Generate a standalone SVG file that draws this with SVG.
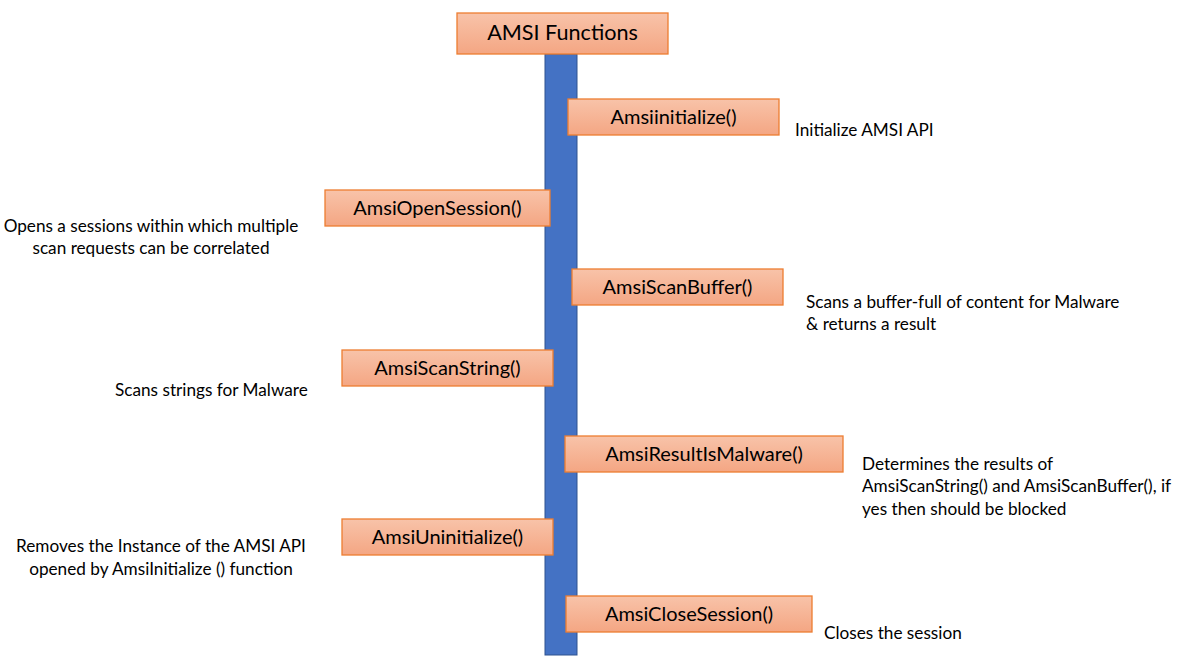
<svg xmlns="http://www.w3.org/2000/svg" width="1192" height="667" viewBox="0 0 1192 667">
<defs>
<linearGradient id="g" x1="0" y1="0" x2="0" y2="1">
<stop offset="0" stop-color="#F8C3A9"/>
<stop offset="1" stop-color="#F4A683"/>
</linearGradient>
</defs>
<style>
.box{fill:url(#g);stroke:#ED7D31;stroke-width:1.3}
.lbl{font-family:Lato,"Open Sans",sans-serif;font-size:20px;fill:#000;text-anchor:middle}
.t{font-family:Lato,"Open Sans",sans-serif;font-size:17.2px;fill:#000}
.c{text-anchor:middle}
</style>
<rect width="1192" height="667" fill="#fff"/>
<g id="connectors">
<rect x="545" y="54" width="32" height="601" fill="#4472C4" stroke="#2F528F" stroke-width="1"/>
</g>
<g id="title">
<rect class="box" x="457" y="13" width="211" height="41"/>
<text class="lbl" x="562.5" y="40" style="font-size:21.6px">AMSI Functions</text>
</g>
<g id="n-init">
<rect class="box" x="568" y="99" width="211" height="36"/>
<text class="lbl" x="673.5" y="124">Amsiinitialize()</text>
<text class="t" x="795" y="136">Initialize AMSI API</text>
</g>
<g id="n-open">
<rect class="box" x="325" y="190" width="225" height="36"/>
<text class="lbl" x="437.5" y="215">AmsiOpenSession()</text>
<text class="t c" x="151" y="232">Opens a sessions within which multiple</text>
<text class="t c" x="151" y="254">scan requests can be correlated</text>
</g>
<g id="n-buffer">
<rect class="box" x="572" y="269" width="211" height="36"/>
<text class="lbl" x="677.5" y="294">AmsiScanBuffer()</text>
<text class="t" x="806" y="308">Scans a buffer-full of content for Malware</text>
<text class="t" x="806" y="330">&amp; returns a result</text>
</g>
<g id="n-string">
<rect class="box" x="342" y="350" width="211" height="36"/>
<text class="lbl" x="447.5" y="375">AmsiScanString()</text>
<text class="t" x="115" y="396">Scans strings for Malware</text>
</g>
<g id="n-result">
<rect class="box" x="565" y="436" width="278" height="36"/>
<text class="lbl" x="704" y="461">AmsiResultIsMalware()</text>
<text class="t" x="862" y="470">Determines the results of</text>
<text class="t" x="862" y="492">AmsiScanString() and AmsiScanBuffer(), if</text>
<text class="t" x="862" y="515">yes then should be blocked</text>
</g>
<g id="n-uninit">
<rect class="box" x="342" y="519" width="211" height="36"/>
<text class="lbl" x="447.5" y="544">AmsiUninitialize()</text>
<text class="t c" x="161" y="552">Removes the Instance of the AMSI API</text>
<text class="t c" x="161" y="575">opened by AmsiInitialize () function</text>
</g>
<g id="n-close">
<rect class="box" x="566" y="596" width="246" height="36"/>
<text class="lbl" x="689" y="621">AmsiCloseSession()</text>
<text class="t" x="824" y="639">Closes the session</text>
</g>
</svg>
